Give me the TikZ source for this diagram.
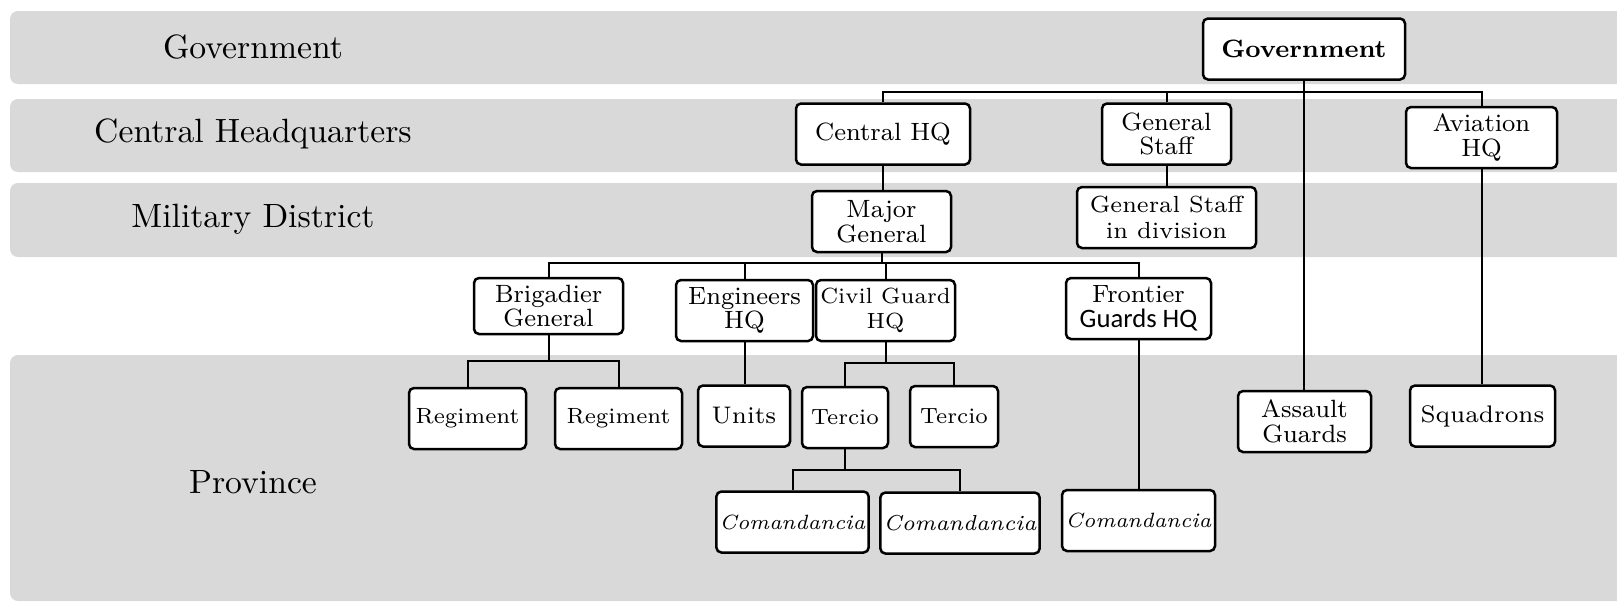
\documentclass[tikz,border=0pt]{standalone}
\usepackage{fontspec}
\newfontfamily\guardsfont{Carlito}

\begin{document}
\begin{tikzpicture}[
  x=0.3pt, y=-0.3pt,
  band/.style={
    fill=gray!30,
    rounded corners=2.4pt,
  },
  bandlabel/.style={
    font=\fontsize{10.1}{12}\selectfont,
  },
  unit/.style={
    draw,
    fill=white,
    rounded corners=1.5pt,
    line width=0.75pt,
    minimum height=18.3pt,
    inner sep=1pt,
    align=center,
    font=\fontsize{7.5}{7.4}\selectfont,
  },
  small/.style={font=\fontsize{6.6}{7.4}\selectfont},
  boxw/.style={minimum width=#1*0.3pt},
  link/.style={
    draw,
    line width=0.6pt,
  },
]

\clip (0,0) rectangle (1617,603);

% Level bands
\fill[band] (10,11) rectangle (1650,84);
\fill[band] (10,99) rectangle (1650,172);
\fill[band] (10,183) rectangle (1650,257);
\fill[band] (10,355) rectangle (1650,601);

\node[bandlabel] (lgov) at (253,47) {Government};
\node[bandlabel] (lchq) at (253,134) {Central Headquarters};
\node[bandlabel] (ldist) at (253,219) {Military District};
\node[bandlabel] (lprov) at (253,482) {Province};

% Top of the chain
\node[unit, boxw=202] (gov) at (1304,49) {\textbf{Government}};

% Central headquarters
\node[unit, boxw=174] (chq) at (883,134) {Central HQ};
\node[unit, boxw=129] (gstaff) at (1166.5,134) {General\\Staff};
\node[unit, boxw=151] (avhq) at (1481.5,137.5) {Aviation\\HQ};

% Military district
\node[unit, boxw=139] (majgen) at (881.5,221.5) {Major\\General};
\node[unit, boxw=179, font=\fontsize{7}{7.8}\selectfont] (gsdiv) at (1166.5,217.5) {General Staff\\in division};

% Under the major general
\node[unit, boxw=149, minimum height=16.8pt] (brig) at (548.5,306) {Brigadier\\General};
\node[unit, boxw=137] (eng) at (744.5,310.5) {Engineers\\HQ};
\node[unit, boxw=139, small] (civil) at (885.5,310.5) {Civil Guard\\HQ};
\node[unit, boxw=145] (front) at (1138.5,308.5) {Frontier\\{\guardsfont\fontsize{8}{7.4}\selectfont Guards HQ}};

% Province
\node[unit, boxw=117, small] (reg1) at (467.5,418.5) {Regiment};
\node[unit, boxw=127, small] (reg2) at (618.5,418.5) {Regiment};
\node[unit, boxw=92, font=\fontsize{7.2}{7.4}\selectfont] (units) at (744,416) {Units};
\node[unit, boxw=86, small] (terc1) at (845,417.5) {Tercio};
\node[unit, boxw=88, small] (terc2) at (954,416.5) {Tercio};
\node[unit, boxw=151, font=\fontsize{6.2}{7.4}\selectfont] (com1) at (792.5,522) {\itshape Comandancia};
\node[unit, boxw=156, font=\fontsize{6.5}{7.4}\selectfont] (com2) at (960,523) {\itshape Comandancia};
\node[unit, boxw=153, font=\fontsize{6.2}{7.4}\selectfont] (com3) at (1138.5,520.5) {\itshape Comandancia};
\node[unit, boxw=133] (assault) at (1304.5,421.5) {Assault\\Guards};
\node[unit, boxw=145, font=\fontsize{7.2}{7.4}\selectfont] (squad) at (1482.5,416) {Squadrons};

% Connectors
\coordinate (govbus) at (1304,92);
\coordinate (mgbus) at (882,263);
\coordinate (brigbus) at (548.5,361);
\coordinate (civbus) at (885.5,363);
\coordinate (tercbus) at (845,470);

\draw[link] (gov.south) -- (gov.south |- assault.north);
\draw[link] (chq.north) |- (govbus) -| (avhq.north);
\draw[link] (gstaff.north) -- (gstaff.north |- govbus);
\draw[link] (chq.south) -- (chq.south |- majgen.north);
\draw[link] (gstaff.south) -- (gstaff.south |- gsdiv.north);
\draw[link] (avhq.south) -- (avhq.south |- squad.north);

\draw[link] (majgen.south) -- (majgen.south |- mgbus);
\draw[link] (brig.north) |- (mgbus) -| (front.north);
\draw[link] (eng.north) -- (eng.north |- mgbus);
\draw[link] (civil.north) -- (civil.north |- mgbus);

\draw[link] (brig.south) -- (brigbus);
\draw[link] (reg1.north) |- (brigbus) -| (reg2.north);
\draw[link] (eng.south) -- (eng.south |- units.north);
\draw[link] (civil.south) -- (civbus);
\draw[link] (terc1.north) |- (civbus) -| (terc2.north);
\draw[link] (terc1.south) -- (tercbus);
\draw[link] (com1.north) |- (tercbus) -| (com2.north);
\draw[link] (front.south) -- (front.south |- com3.north);

\end{tikzpicture}
\end{document}
